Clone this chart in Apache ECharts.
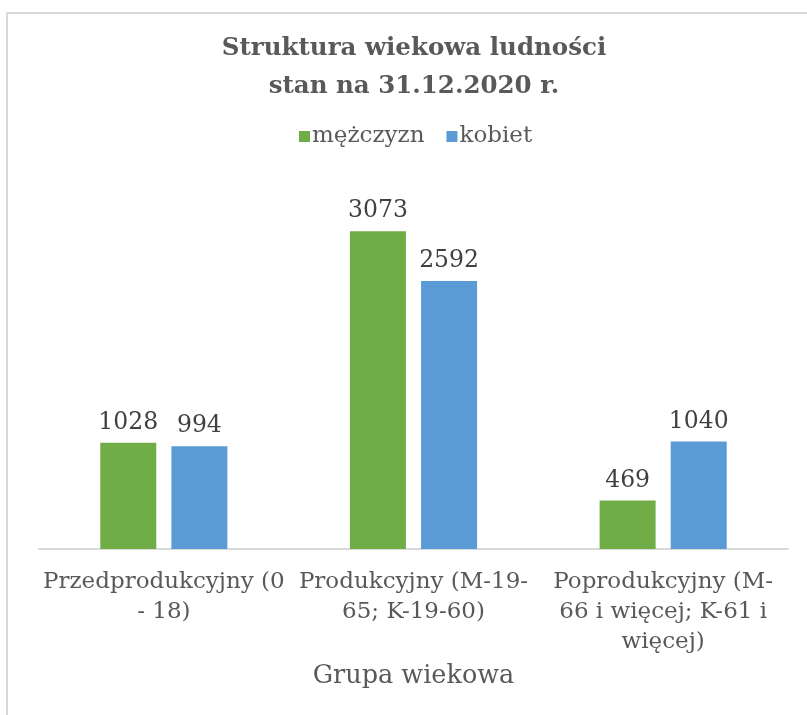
<!DOCTYPE html>
<html>
<head>
<meta charset="utf-8">
<script src="https://cdn.jsdelivr.net/npm/echarts@6/dist/echarts.min.js"></script>
<style>
  body { margin: 0; background: #fff; }
  .frame {
    position: absolute; left: 6px; top: 12px; width: 900px; height: 800px;
    border-left: 2px solid #d9d9d9; border-top: 2px solid #d9d9d9;
  }
  #chart { position: absolute; left: 0; top: 0; width: 807px; height: 715px; }
</style>
</head>
<body>
<div class="frame"></div>
<div id="chart"></div>
<script>
// dane z wykresu
const categories = ['Przedprodukcyjny (0 - 18)', 'Produkcyjny (M-19-65; K-19-60)', 'Poprodukcyjny (M-66 i więcej; K-61 i więcej)']
const tickLabels = ['Przedprodukcyjny (0\n- 18)', 'Produkcyjny (M-19-\n65; K-19-60)', 'Poprodukcyjny (M-\n66 i więcej; K-61 i\nwięcej)']
const menValues = [1028, 3073, 469]
const womenValues = [994, 2592, 1040]

const font = 'DejaVu Serif'

const myChart = echarts.init(document.getElementById('chart'))

const option = {
  animation: false,
  title: {
    text: 'Struktura wiekowa ludności\nstan na 31.12.2020 r.',
    left: 409,
    textAlign: 'center',
    top: 25,
    textStyle: {
      fontFamily: font,
      fontWeight: 'bold',
      fontSize: 24.5,
      lineHeight: 38,
      color: '#595959'
    }
  },
  legend: {
    top: 120,
    left: 294,
    itemWidth: 11,
    itemHeight: 11,
    itemGap: 22,
    icon: 'rect',
    textStyle: { fontFamily: font, fontSize: 23, color: '#595959', padding: [0, 0, 0, -3] }
  },
  grid: {
    left: 39,
    right: 19,
    top: 187,
    bottom: 166
  },
  xAxis: {
    type: 'category',
    data: categories,
    name: 'Grupa wiekowa',
    nameLocation: 'middle',
    nameGap: 114,
    nameTextStyle: { fontFamily: font, fontSize: 25.5, color: '#595959' },
    axisLine: { lineStyle: { color: '#d9d9d9', width: 2 } },
    axisTick: { show: false },
    axisLabel: {
      interval: 0,
      margin: 18,
      fontFamily: font,
      fontSize: 23,
      lineHeight: 30,
      color: '#595959',
      formatter: function (value, idx) {
        return tickLabels[idx]
      }
    }
  },
  yAxis: {
    type: 'value',
    min: 0,
    max: 3500,
    show: false,
    splitLine: { show: false }
  },
  series: [
    {
      name: 'mężczyzn',
      type: 'bar',
      data: menValues,
      barWidth: 56,
      barGap: '27%',
      itemStyle: { color: '#70ad47' },
      label: {
        show: true,
        position: 'top',
        distance: 8,
        fontFamily: font,
        fontSize: 23.5,
        color: '#404040'
      }
    },
    {
      name: 'kobiet',
      type: 'bar',
      data: womenValues,
      barWidth: 56,
      itemStyle: { color: '#5b9bd5' },
      label: {
        show: true,
        position: 'top',
        distance: 8,
        fontFamily: font,
        fontSize: 23.5,
        color: '#404040'
      }
    }
  ]
}

myChart.setOption(option)
</script>
</body>
</html>
